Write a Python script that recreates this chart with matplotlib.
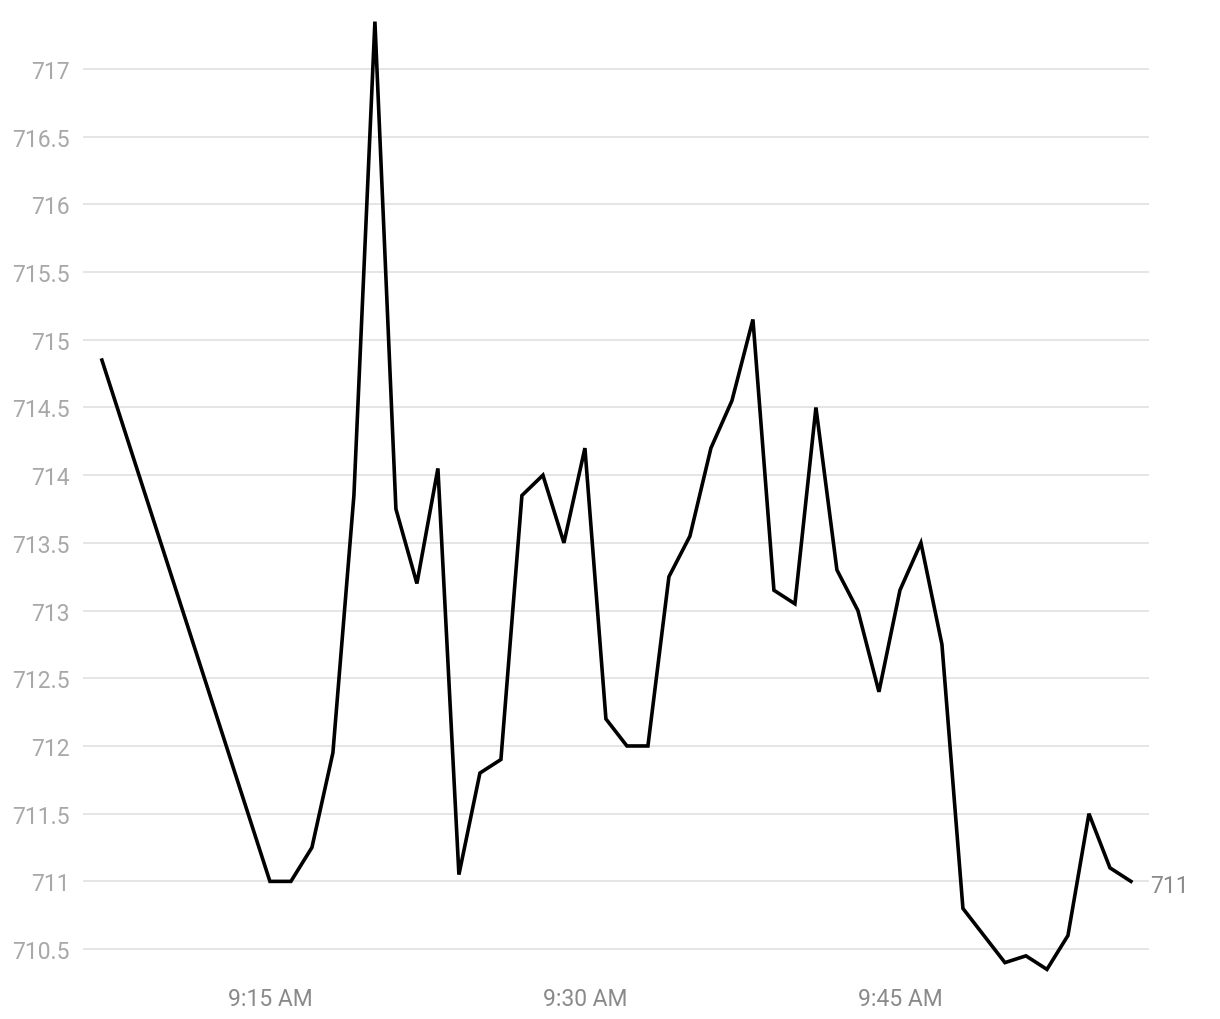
import matplotlib
matplotlib.use('Agg')
import matplotlib.pyplot as plt

times = ['9:07', '9:15', '9:16', '9:17', '9:18', '9:19', '9:20', '9:21', '9:22', '9:23',
         '9:24', '9:25', '9:26', '9:27', '9:28', '9:29', '9:30', '9:31', '9:32', '9:33',
         '9:34', '9:35', '9:36', '9:37', '9:38', '9:39', '9:40', '9:41', '9:42', '9:43',
         '9:44', '9:45', '9:46', '9:47', '9:48', '9:49', '9:50', '9:51', '9:52', '9:53',
         '9:54', '9:55', '9:56']
prices = [714.85, 711.0, 711.0, 711.25, 711.95, 713.85, 717.35, 713.75, 713.2, 714.05,
          711.05, 711.8, 711.9, 713.85, 714.0, 713.5, 714.2, 712.2, 712.0, 712.0,
          713.25, 713.55, 714.2, 714.55, 715.15, 713.15, 713.05, 714.5, 713.3, 713.0,
          712.4, 713.15, 713.5, 712.75, 710.8, 710.6, 710.4, 710.45, 710.35, 710.6,
          711.5, 711.1, 711.0]
tick_times = ['9:15', '9:30', '9:45']
tick_labels = ['9:15 AM', '9:30 AM', '9:45 AM']
y_ticks = [710.5, 711, 711.5, 712, 712.5, 713, 713.5, 714, 714.5, 715, 715.5, 716, 716.5, 717]


def to_min(t):
    h, m = t.split(':')
    return int(h) * 60 + int(m)


x = [to_min(t) for t in times]

plt.rcParams['font.family'] = ['Roboto', 'DejaVu Sans']

fig = plt.figure(figsize=(12.2, 10.2), dpi=100)
ax = fig.add_axes([83 / 1220, 0.042, (1149 - 83) / 1220, 0.9425])

ax.plot(x, prices, color='black', linewidth=2.6, solid_joinstyle='miter', zorder=3)

ax.set_xlim(x[0] - 0.9, x[-1] + 0.86)
ax.set_ylim(710.3, 717.4)
ax.set_yticks(y_ticks)
ax.set_yticklabels(['%g' % v for v in y_ticks])
ax.set_xticks([to_min(t) for t in tick_times])
ax.set_xticklabels(tick_labels)

ax.grid(axis='y', color='#e3e3e3', linewidth=1.3)
ax.set_axisbelow(True)
for s in ax.spines.values():
    s.set_visible(False)
ax.tick_params(axis='y', length=0, pad=9.5, labelsize=16.5, labelcolor='#a8a8a8')
ax.tick_params(axis='x', length=0, pad=8, labelsize=16.5, labelcolor='#8a8a8a')

ax.annotate('%g' % prices[-1], xy=(x[-1], prices[-1]), xytext=(14, -3),
            textcoords='offset points', va='center', ha='left',
            fontsize=16.5, color='#8a8a8a', annotation_clip=False)

fig.savefig('out.png', dpi=100)
